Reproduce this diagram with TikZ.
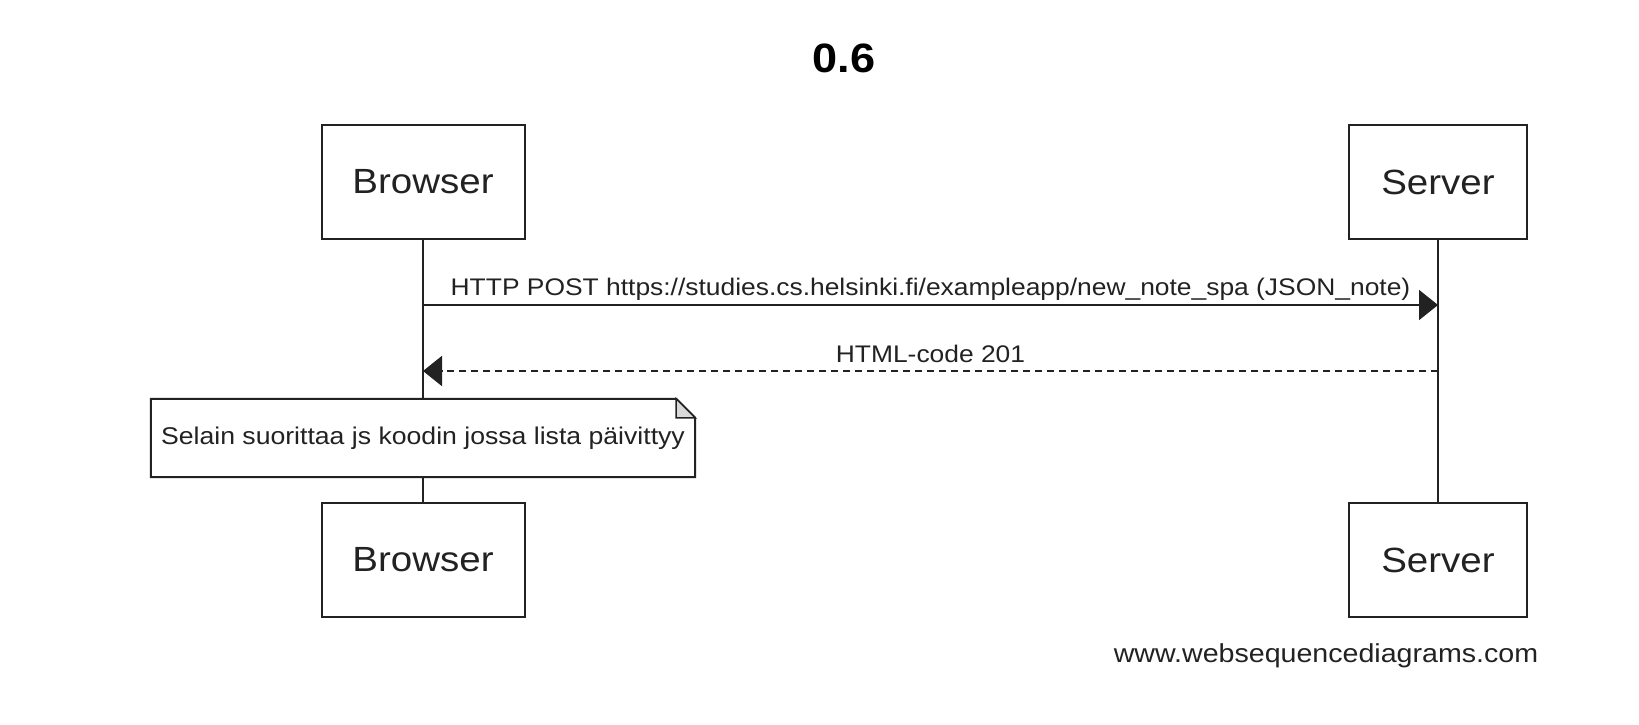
\documentclass[tikz,border=0pt]{standalone}
\usepackage{fontspec}
\setmainfont{Liberation Sans}[FakeStretch=1.1]
\usetikzlibrary{arrows.meta}
\definecolor{ink}{HTML}{222222}
\tikzset{
  actor/.style={draw=ink, line width=2pt, fill=white, inner sep=0pt, text=ink,
    font=\fontsize{35}{42}\selectfont},
  browserbox/.style={actor, minimum width=203pt, minimum height=114pt},
  serverbox/.style={actor, minimum width=178pt, minimum height=114pt},
  lifeline/.style={draw=ink, line width=2pt},
  msg/.style={draw=ink, line width=2pt, -{Triangle[length=19pt,width=30pt]}},
  reply/.style={msg, dash pattern=on 7pt off 5pt},
  msglabel/.style={text=ink, inner sep=0pt, font=\fontsize{24}{28}\selectfont},
  notetext/.style={text=ink, inner sep=0pt, minimum width=544pt, minimum height=78pt},
  notebox/.style={draw=ink, line width=2pt, fill=white},
  fold/.style={draw=ink, line width=1.5pt, fill=gray!30},
}
\begin{document}
\begin{tikzpicture}[x=1pt, y=-1pt]
\useasboundingbox (0,0) rectangle (1639,725);
% title
\node[text=black, inner sep=0pt, font=\fontsize{41}{48}\selectfont\bfseries] (title) at (844,58.5) {0.6};
% lifeline coordinates
\coordinate (b1) at (423,305);
\coordinate (s1) at (1438,305);
\coordinate (b2) at (423,371);
\coordinate (s2) at (1438,371);
% actor boxes
\node[browserbox] (bt) at (423,182) {Browser};
\node[serverbox] (st) at (1438,182) {Server};
\node[browserbox] (bb) at (423,560) {Browser};
\node[serverbox] (sb) at (1438,560) {Server};
% note
\node[notetext] (note) at (423,438) {};
% lifelines
\draw[lifeline] (bt.south) -- (note.north);
\draw[lifeline] (note.south) -- (bb.north);
\draw[lifeline] (st.south) -- (sb.north);
% note shape
\draw[notebox] (note.north west) -- ([xshift=-19pt]note.north east) -- ([yshift=-19pt]note.north east) -- (note.south east) -- (note.south west) -- cycle;
\draw[fold] ([xshift=-19pt]note.north east) -- ([xshift=-19pt,yshift=-19pt]note.north east) -- ([yshift=-19pt]note.north east) -- cycle;
\node[text=ink, inner sep=0pt, font=\fontsize{24.2}{28}\selectfont] (notelabel) at (note.center) {Selain suorittaa js koodin jossa lista päivittyy};
% messages
\draw[msg] (b1) -- node[msglabel, midway, yshift=16pt] (m1) {HTTP POST https://studies.cs.helsinki.fi/exampleapp/new\_note\_spa (JSON\_note)} (s1);
\draw[reply] (s2) -- node[msglabel, midway, yshift=17pt] (m2) {HTML-code 201} (b2);
% footer
\node[text=ink, inner sep=0pt, font=\fontsize{26}{30}\selectfont] (footer) at (1326,656) {www.websequencediagrams.com};
\end{tikzpicture}
\end{document}
